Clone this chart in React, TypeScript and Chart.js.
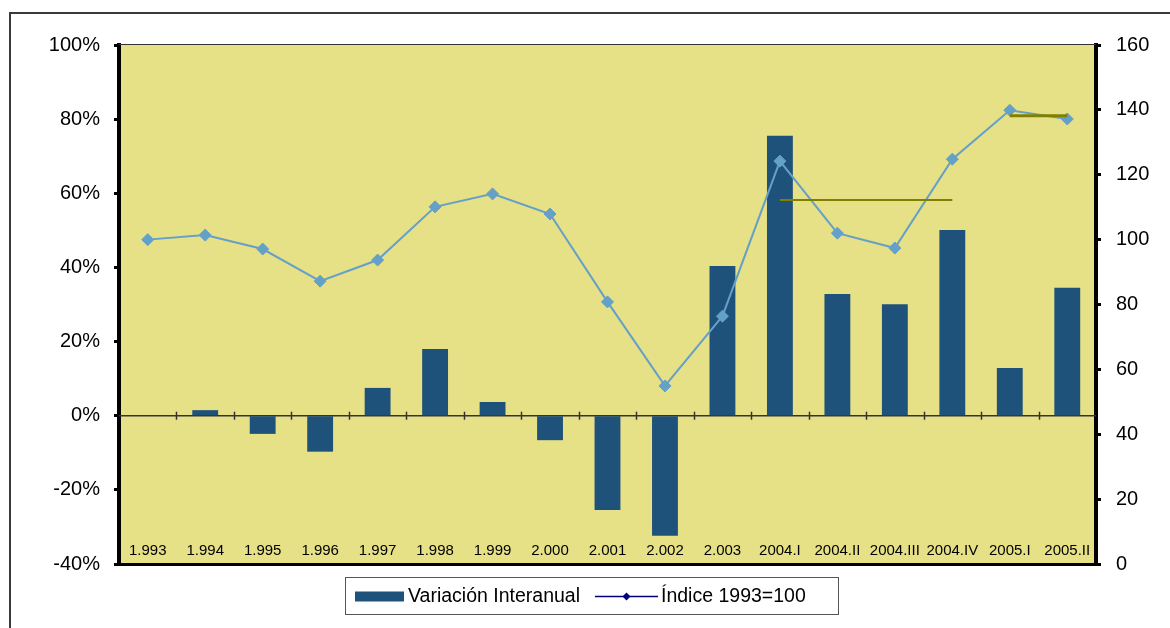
import React, { useEffect, useRef } from "react";
import { Chart, registerables } from "chart.js";

Chart.register(...registerables);

const categories = [
  "1.993", "1.994", "1.995", "1.996", "1.997", "1.998", "1.999", "2.000", "2.001",
  "2.002", "2.003", "2004.I", "2004.II", "2004.III", "2004.IV", "2005.I", "2005.II",
];
// Variación interanual (%), left axis
const variacion = [0, 1.5, -4.9, -9.7, 7.5, 18.0, 3.7, -6.6, -25.4, -32.4, 40.4, 75.5, 32.8, 30.1, 50.1, 12.9, 34.5];
// Índice 1993=100, right axis
const indice = [100, 101.4, 97.1, 87.2, 93.7, 110.1, 114.1, 107.9, 80.8, 54.9, 76.4, 124.2, 102.0, 97.4, 124.8, 139.9, 137.2];
// Average level lines (right axis)
const media2004 = [null, null, null, null, null, null, null, null, null, null, null, 112.2, 112.2, 112.2, 112.2, null, null];
const media2005 = [null, null, null, null, null, null, null, null, null, null, null, null, null, null, null, 138.2, 138.2];

const leftTicks = { min: -40, max: 100, step: 20 };
const rightTicks = { min: 0, max: 160, step: 20 };
const legendLabels = ["Variación Interanual", "Índice 1993=100"];

const FONT = "'Liberation Sans', Arial, sans-serif";
const PLOT_BG = "#E6E087";
const BAR_COLOR = "#1F527A";
const LINE_COLOR = "#64A0C8";
const OLIVE = "#808000";
const LEGEND_LINE = "#000080";

const decorPlugin = {
  id: "decor",
  beforeDraw(chart: any) {
    const { ctx, chartArea: a } = chart;
    ctx.save();
    ctx.fillStyle = "#ffffff";
    ctx.fillRect(0, 0, chart.width, chart.height);
    ctx.fillStyle = "#3a3a3a";
    ctx.fillRect(9, 12, chart.width - 9, 2);
    ctx.fillRect(9, 12, 2, chart.height - 12);
    ctx.fillStyle = PLOT_BG;
    ctx.fillRect(a.left, a.top, a.right - a.left, a.bottom - a.top);
    ctx.restore();
  },
  beforeDatasetsDraw(chart: any) {
    const { ctx, chartArea: a, scales } = chart;
    const y0 = scales.y.getPixelForValue(0);
    const xs = scales.x;
    ctx.save();
    ctx.strokeStyle = "#333333";
    ctx.lineWidth = 1.5;
    ctx.beginPath();
    ctx.moveTo(a.left, y0);
    ctx.lineTo(a.right, y0);
    const n = categories.length;
    for (let i = 1; i < n; i++) {
      const x = Math.round((xs.getPixelForValue(i - 1) + xs.getPixelForValue(i)) / 2) + 0.5;
      ctx.moveTo(x, y0 - 4);
      ctx.lineTo(x, y0 + 4);
    }
    ctx.stroke();
    ctx.restore();
  },
  afterDraw(chart: any) {
    const { ctx, chartArea: a, scales } = chart;
    ctx.save();
    // top border of plot
    ctx.fillStyle = "#333333";
    ctx.fillRect(a.left, a.top - 1, a.right - a.left, 1);
    // bottom border
    ctx.fillStyle = "#000000";
    ctx.fillRect(a.left - 2, a.bottom - 1, a.right - a.left + 4, 3);
    // category labels inside plot
    ctx.fillStyle = "#000000";
    ctx.font = `15px ${FONT}`;
    ctx.textAlign = "center";
    ctx.textBaseline = "middle";
    categories.forEach((c, i) => {
      ctx.fillText(c, scales.x.getPixelForValue(i), a.bottom - 13);
    });
    // legend
    const bx = 345, by = 577, bw = 493, bh = 37;
    ctx.strokeStyle = "#555555";
    ctx.lineWidth = 1;
    ctx.strokeRect(bx + 0.5, by + 0.5, bw, bh);
    const cy = by + bh / 2 + 1;
    ctx.fillStyle = BAR_COLOR;
    ctx.fillRect(355, cy - 5, 49, 10);
    ctx.fillStyle = "#000000";
    ctx.font = `19.5px ${FONT}`;
    ctx.textAlign = "left";
    ctx.textBaseline = "middle";
    ctx.fillText(legendLabels[0], 408, cy);
    ctx.strokeStyle = LEGEND_LINE;
    ctx.lineWidth = 1.5;
    ctx.beginPath();
    ctx.moveTo(595, cy);
    ctx.lineTo(658, cy);
    ctx.stroke();
    ctx.fillStyle = LEGEND_LINE;
    ctx.beginPath();
    const mx = 626.5, r = 4;
    ctx.moveTo(mx, cy - r);
    ctx.lineTo(mx + r, cy);
    ctx.lineTo(mx, cy + r);
    ctx.lineTo(mx - r, cy);
    ctx.closePath();
    ctx.fill();
    ctx.fillStyle = "#000000";
    ctx.fillText(legendLabels[1], 661, cy);
    ctx.restore();
  },
};

export default function App() {
  const ref = useRef<HTMLCanvasElement | null>(null);
  useEffect(() => {
    if (!ref.current) return;
    const tickFont = { family: FONT, size: 20 };
    const chart = new Chart(ref.current, {
      type: "bar",
      data: {
        labels: categories,
        datasets: [
          {
            type: "bar",
            label: legendLabels[0],
            data: variacion,
            yAxisID: "y",
            backgroundColor: BAR_COLOR,
            barPercentage: 0.45,
            categoryPercentage: 1,
            order: 3,
          } as any,
          {
            type: "line",
            label: legendLabels[1],
            data: indice,
            yAxisID: "y1",
            borderColor: LINE_COLOR,
            backgroundColor: LINE_COLOR,
            borderWidth: 2,
            pointStyle: "rectRot",
            pointRadius: 6,
            pointBackgroundColor: LINE_COLOR,
            pointBorderColor: LINE_COLOR,
            pointBorderWidth: 1,
            tension: 0,
            order: 2,
          } as any,
          {
            type: "line",
            label: "media2004",
            data: media2004,
            yAxisID: "y1",
            borderColor: OLIVE,
            borderWidth: 2,
            pointRadius: 0,
            spanGaps: false,
            order: 1,
          } as any,
          {
            type: "line",
            label: "media2005",
            data: media2005,
            yAxisID: "y1",
            borderColor: OLIVE,
            borderWidth: 3,
            pointRadius: 0,
            spanGaps: false,
            order: 1,
          } as any,
        ],
      },
      options: {
        responsive: false,
        animation: false,
        layout: { padding: { top: 45, bottom: 64, left: 0, right: 0 } },
        plugins: {
          legend: { display: false },
          tooltip: { enabled: false },
        },
        scales: {
          x: {
            type: "category",
            display: false,
            offset: true,
          },
          y: {
            position: "left",
            min: leftTicks.min,
            max: leftTicks.max,
            ticks: {
              stepSize: leftTicks.step,
              callback: (v: any) => `${v}%`,
              font: tickFont,
              color: "#000000",
              padding: 14,
            },
            grid: {
              drawOnChartArea: false,
              drawTicks: true,
              tickLength: 5,
              tickWidth: 3,
              tickColor: "#000000",
            },
            border: { display: true, color: "#000000", width: 4 },
            afterFit: (s: any) => {
              s.width = 119;
            },
          },
          y1: {
            position: "right",
            min: rightTicks.min,
            max: rightTicks.max,
            ticks: {
              stepSize: rightTicks.step,
              font: tickFont,
              color: "#000000",
              padding: 15,
            },
            grid: {
              drawOnChartArea: false,
              drawTicks: true,
              tickLength: 5,
              tickWidth: 3,
              tickColor: "#000000",
            },
            border: { display: true, color: "#000000", width: 4 },
            afterFit: (s: any) => {
              s.width = 74;
            },
          },
        },
      } as any,
      plugins: [decorPlugin],
    });
    return () => chart.destroy();
  }, []);
  return (
    <div style={{ position: "absolute", left: 0, top: 0, width: 1170, height: 628, overflow: "hidden" }}>
      <canvas ref={ref} width={1170} height={628} style={{ display: "block", width: 1170, height: 628 }} />
    </div>
  );
}
